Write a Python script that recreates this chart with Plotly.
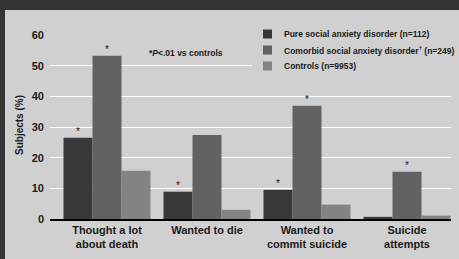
import plotly.graph_objects as go

categories = ["Thought a lot<br>about death", "Wanted to die", "Wanted to<br>commit suicide", "Suicide<br>attempts"]
series_names = ["Pure social anxiety disorder (n=112)",
                "Comorbid social anxiety disorder<sup>†</sup> (n=249)",
                "Controls (n=9953)"]
pure = [26.5, 8.9, 9.5, 0.7]
comorbid = [53.2, 27.4, 36.9, 15.4]
controls = [15.7, 3.0, 4.7, 1.1]
pure_sig = [True, True, True, False]
comorbid_sig = [True, False, True, True]
controls_sig = [False, False, False, False]
y_ticks = [0, 10, 20, 30, 40, 50, 60]

colors = ["#383838", "#626262", "#838383"]
panel = "#d0d0d0"
dark = "#333333"
txt = "#1a1a1a"
font = "Liberation Sans, Arial, sans-serif"

# plot-area geometry in pixels (for placing decorations)
W, H = 459, 259
L, R, T, B = 50, 8, 35, 40
pw, ph = W - L - R, H - T - B


def px(xp):
    return (xp - L) / pw


def py(yp):
    return (H - B - yp) / ph


x = list(range(len(categories)))
bargap = 0.13
bw = (1 - bargap) / 3

fig = go.Figure()
annotations = []
# legend background (hides gridlines behind the legend)
shapes = [dict(type="rect", xref="paper", yref="paper",
               x0=px(252), x1=px(W + 10), y0=py(76), y1=py(24),
               fillcolor=panel, line=dict(width=0), layer="above")]
all_vals = [pure, comorbid, controls]
all_sig = [pure_sig, comorbid_sig, controls_sig]
for j, (name, vals, sig, col) in enumerate(zip(series_names, all_vals, all_sig, colors)):
    fig.add_trace(go.Bar(
        x=x, y=vals, name=name, marker=dict(color=col, line=dict(width=0)),
        showlegend=False, hoverinfo="skip",
    ))
    for i, (v, s) in enumerate(zip(vals, sig)):
        if s:
            annotations.append(dict(
                text="*", xref="x", yref="y", x=i + (j - 1) * bw, y=v,
                xanchor="center", yanchor="bottom", yshift=-1, showarrow=False,
                font=dict(family=font, size=10, color=txt)))
    # manual legend entry
    yc = 34 + j * 16
    shapes.append(dict(type="rect", xref="paper", yref="paper",
                       x0=px(263), x1=px(272), y0=py(yc + 4.5), y1=py(yc - 4.5),
                       fillcolor=col, line=dict(width=0), layer="above"))
    annotations.append(dict(text="<b>%s</b>" % name, xref="paper", yref="paper",
                            x=px(282), y=py(yc), xanchor="left", yanchor="middle",
                            showarrow=False, font=dict(family=font, size=8.5, color=txt)))

shapes += [
    dict(type="rect", xref="paper", yref="paper", x0=px(-20), x1=px(W + 20), y0=py(10), y1=py(-20),
         fillcolor=dark, line=dict(width=0), layer="above"),
    dict(type="rect", xref="paper", yref="paper", x0=px(-20), x1=px(5), y0=py(H + 20), y1=py(-20),
         fillcolor=dark, line=dict(width=0), layer="above"),
]
annotations += [
    dict(text="<b>*<i>P</i><.01 vs controls</b>", xref="paper", yref="paper",
         x=px(147), y=py(53), xanchor="left", yanchor="middle", showarrow=False,
         font=dict(family=font, size=8.5, color=txt)),
    dict(text="<b>Subjects (%)</b>", xref="paper", yref="paper",
         x=px(20), y=py(125), xanchor="center", yanchor="middle", textangle=-90,
         showarrow=False, font=dict(family=font, size=10, color=txt)),
]

fig.update_layout(
    width=W, height=H,
    margin=dict(l=L, r=R, t=T, b=B, autoexpand=False),
    paper_bgcolor=panel, plot_bgcolor=panel,
    barmode="group", bargap=bargap, bargroupgap=0,
    font=dict(family=font, color=txt),
    showlegend=False,
    xaxis=dict(range=[-0.57, 3.44], tickvals=x, ticktext=["<b>%s</b>" % c for c in categories],
               tickfont=dict(family=font, size=11, color=txt), automargin=False,
               showgrid=False, zeroline=False, showline=True, linecolor="#000000",
               linewidth=1.5, ticks=""),
    yaxis=dict(range=[0, 60], tickvals=y_ticks, automargin=False,
               tickfont=dict(family=font, size=11, color=txt, weight="bold"),
               showgrid=True, gridcolor="#ffffff", gridwidth=1,
               zeroline=False, ticks="", ticklabelstandoff=5),
    shapes=shapes,
    annotations=annotations,
)

fig.write_html("out.html", config={"displayModeBar": False},
               post_script="document.body.style.margin='0';document.body.style.padding='0';")
